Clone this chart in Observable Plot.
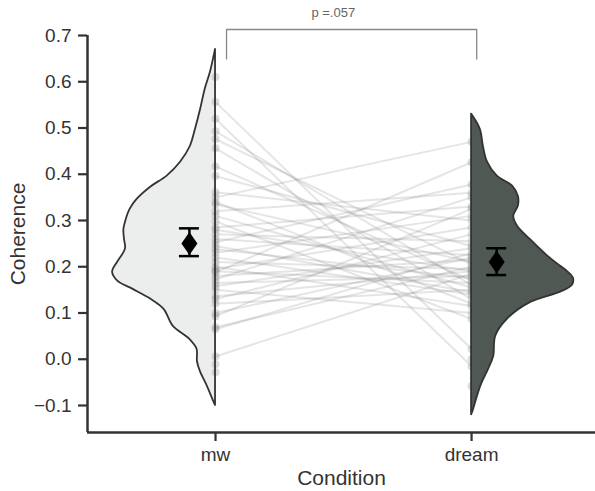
<!DOCTYPE html>
<html>
<head>
<meta charset="utf-8">
<script src="https://cdn.jsdelivr.net/npm/d3@7"></script>
<script src="https://cdn.jsdelivr.net/npm/@observablehq/plot@0.6"></script>
<style>
  html, body { margin: 0; padding: 0; background: #fff; }
  #chart { width: 595px; height: 491px; }
</style>
</head>
<body>
<div id="chart"></div>
<script>
// ---- data ----
const conditions = ["mw", "dream"];
const yTicks = [-0.1, 0.0, 0.1, 0.2, 0.3, 0.4, 0.5, 0.6, 0.7];

// paired participant values (null = missing in that condition)
const mwValues = [0.61, 0.556, 0.52, 0.493, 0.476, 0.456, 0.417, 0.396, 0.361, 0.35, 0.34, 0.335, 0.32, 0.31, 0.298, 0.285, 0.28, 0.27, 0.26, 0.253, 0.245, 0.238, 0.23, 0.22, 0.21, 0.2, 0.195, 0.19, 0.188, 0.18, 0.173, 0.165, 0.158, 0.15, 0.136, 0.13, 0.12, 0.1, 0.093, 0.069, 0.065, 0.006, -0.011, -0.028, null, null];
const dreamValues = [null, 0.022, -0.015, 0.16, 0.205, 0.13, 0.17, 0.245, 0.30, 0.47, 0.12, 0.21, 0.36, 0.155, 0.087, 0.33, 0.19, 0.255, 0.225, 0.378, 0.145, 0.175, 0.31, 0.14, 0.195, 0.115, 0.285, 0.165, 0.426, 0.215, 0.35, 0.18, 0.24, 0.10, 0.19, 0.27, 0.15, 0.22, 0.325, 0.20, 0.23, 0.185, null, null, 0.0, -0.058];

// violin outlines: value and relative density
const mwViolinV = [0.67, 0.62, 0.584, 0.54, 0.497, 0.46, 0.426, 0.396, 0.372, 0.346, 0.324, 0.30, 0.281, 0.26, 0.238, 0.21, 0.188, 0.169, 0.151, 0.13, 0.108, 0.071, 0.043, 0.022, -0.006, -0.028, -0.058, -0.09, -0.1];
const mwViolinD = [0.0, 0.05, 0.10, 0.145, 0.195, 0.245, 0.34, 0.47, 0.63, 0.76, 0.83, 0.87, 0.89, 0.885, 0.875, 0.95, 1.0, 0.95, 0.80, 0.63, 0.50, 0.41, 0.25, 0.18, 0.175, 0.145, 0.08, 0.02, 0.0];
const dreamViolinV = [0.53, 0.497, 0.46, 0.426, 0.396, 0.374, 0.352, 0.331, 0.309, 0.288, 0.259, 0.223, 0.201, 0.19, 0.175, 0.16, 0.145, 0.123, 0.087, 0.05, 0.006, -0.022, -0.058, -0.115, -0.12];
const dreamViolinD = [0.0, 0.085, 0.115, 0.155, 0.25, 0.40, 0.455, 0.455, 0.41, 0.445, 0.57, 0.74, 0.865, 0.93, 0.99, 0.98, 0.865, 0.575, 0.35, 0.235, 0.215, 0.165, 0.09, 0.01, 0.0];

// means and 95% CI
const means = [0.25, 0.21];
const ciLow = [0.223, 0.182];
const ciHigh = [0.283, 0.24];

const pLabel = "p =.057";

// ---- build tables ----
const pairs = mwValues.map((m, i) => ({mw: m, dream: dreamValues[i]}));
const mwPts = pairs.filter(d => d.mw != null);
const dreamPts = pairs.filter(d => d.dream != null);
const linked = pairs.filter(d => d.mw != null && d.dream != null);
const mwViolin = mwViolinV.map((v, i) => ({v, d: mwViolinD[i]}));
const dreamViolin = dreamViolinV.map((v, i) => ({v, d: dreamViolinD[i]}));
const stats = conditions.map((c, i) => ({i, mean: means[i], lo: ciLow[i], hi: ciHigh[i], off: i === 0 ? -0.102 : 0.098}));

const S = 0.402;           // violin half-width in x units
const yMin = -0.1584, yMax = 0.7;
const xMin = -0.5, xMax = 1.484;
const dark = "#333333";

const diamond = {
  draw(ctx) {
    ctx.moveTo(0, -11.5);
    ctx.lineTo(8, 0);
    ctx.lineTo(0, 11.5);
    ctx.lineTo(-8, 0);
    ctx.closePath();
  }
};

const chart = Plot.plot({
  width: 595,
  height: 491,
  marginLeft: 87,
  marginRight: 0,
  marginTop: 35,
  marginBottom: 59,
  style: {fontFamily: "'Liberation Sans', Arial, sans-serif", color: dark, background: "#fff"},
  x: {domain: [xMin, xMax], axis: null},
  y: {domain: [yMin, yMax], axis: null},
  marks: [
    // mw violin fill
    Plot.areaX(mwViolin, {y: "v", x1: 0, x2: d => -d.d * S, curve: "catmull-rom", fill: "#eceeed"}),
    // paired lines
    Plot.link(linked, {x1: 0, y1: "mw", x2: 1, y2: "dream", stroke: "#8a8a8a", strokeOpacity: 0.22, strokeWidth: 2}),
    // points
    Plot.dot(mwPts, {x: 0, y: "mw", r: 4, fill: "#8a8a8a", fillOpacity: 0.3}),
    Plot.dot(dreamPts, {x: 1, y: "dream", r: 4, fill: "#8a8a8a", fillOpacity: 0.3}),
    // dream violin
    Plot.areaX(dreamViolin, {y: "v", x1: 1, x2: d => 1 + d.d * S, curve: "catmull-rom", fill: "#4f5852", stroke: dark, strokeWidth: 1.8}),
    // mw violin outline
    Plot.areaX(mwViolin, {y: "v", x1: 0, x2: d => -d.d * S, curve: "catmull-rom", fill: "none", stroke: dark, strokeWidth: 1.8}),
    // error bars
    Plot.ruleX(stats, {x: d => d.i + d.off, y1: "lo", y2: "hi", stroke: "#000", strokeWidth: 2.5}),
    Plot.ruleY(stats, {y: "lo", x1: d => d.i + d.off - 0.039, x2: d => d.i + d.off + 0.039, stroke: "#000", strokeWidth: 2.5}),
    Plot.ruleY(stats, {y: "hi", x1: d => d.i + d.off - 0.039, x2: d => d.i + d.off + 0.039, stroke: "#000", strokeWidth: 2.5}),
    Plot.dot(stats, {x: d => d.i + d.off, y: "mean", symbol: diamond, fill: "#000", stroke: "none"}),
    // significance bracket
    Plot.line([{x: 0.043, y: 0.649}, {x: 0.043, y: 0.713}, {x: 1.02, y: 0.713}, {x: 1.02, y: 0.649}], {x: "x", y: "y", stroke: "#888", strokeWidth: 1.3}),
    Plot.text([pLabel], {x: 0.46, y: 0.748, text: d => d, fontSize: 13, fill: "#666"}),
    // axes lines
    Plot.ruleX([xMin], {y1: yMin, y2: yMax, stroke: dark, strokeWidth: 2.5}),
    Plot.ruleY([yMin], {x1: xMin, x2: xMax, stroke: dark, strokeWidth: 2.5}),
    Plot.axisY(yTicks, {anchor: "left", tickSize: 9, tickPadding: 7, strokeWidth: 2.2, stroke: dark, fontSize: 19, fill: dark, tickFormat: d3.format(".1f"), label: null}),
    Plot.axisX([0, 1], {anchor: "bottom", tickSize: 9, tickPadding: 6, strokeWidth: 2.2, stroke: dark, fontSize: 19, fill: dark, tickFormat: d => conditions[d], label: null}),
    // axis titles
    Plot.text(["Coherence"], {frameAnchor: "left", dx: -69, rotate: -90, textAnchor: "middle", lineAnchor: "middle", text: d => d, fontSize: 21, fill: dark}),
    Plot.text(["Condition"], {frameAnchor: "bottom", dy: 46, textAnchor: "middle", lineAnchor: "middle", text: d => d, fontSize: 21, fill: dark})
  ]
});
document.getElementById("chart").appendChild(chart);
</script>
</body>
</html>
